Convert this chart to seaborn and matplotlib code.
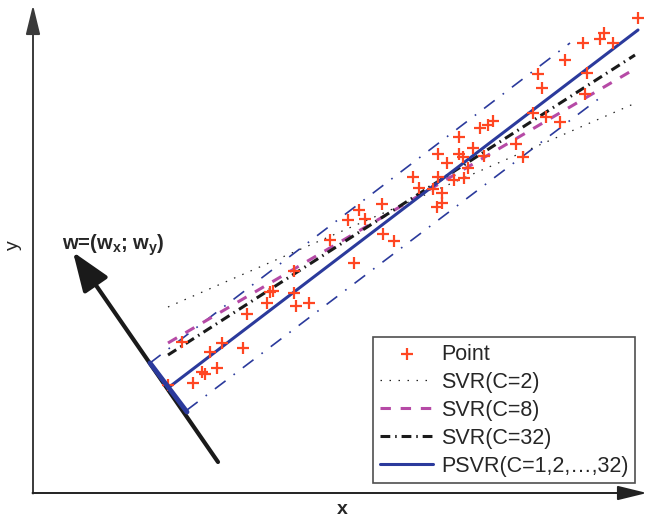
import matplotlib
matplotlib.use('Agg')
import matplotlib.pyplot as plt
import seaborn as sns

sns.set_theme(style='white')
plt.rcParams['font.family'] = ['Liberation Sans', 'DejaVu Sans']
plt.rcParams['mathtext.fontset'] = 'custom'
plt.rcParams['mathtext.bf'] = 'Liberation Sans:bold'
plt.rcParams['mathtext.rm'] = 'Liberation Sans'

# sample points
pts_x = [1.35, 1.60, 1.69, 1.72, 1.84, 1.77, 1.49, 1.89, 2.10, 2.14,
         2.34, 2.37, 2.40, 2.61, 2.63, 2.76, 2.61, 2.97, 3.21, 3.15,
         3.26, 3.32, 3.49, 3.50, 3.61, 3.80, 3.86, 4.00, 4.09, 4.09,
         4.04, 4.05, 4.21, 4.31, 4.35, 4.14, 4.05, 4.26, 4.30, 4.51,
         4.40, 4.26, 4.47, 4.55, 4.60, 4.83, 4.90, 5.00, 5.13, 5.27,
         5.05, 5.09, 5.32, 5.54, 5.52, 5.50, 5.67, 5.71, 5.80, 6.05]
pts_y = [1.08, 1.10, 1.21, 1.19, 1.25, 1.41, 1.51, 1.50, 1.45, 1.79,
         1.90, 2.01, 2.02, 2.00, 1.87, 1.90, 2.22, 2.53, 2.30, 2.73,
         2.83, 2.74, 2.89, 2.59, 2.52, 3.16, 3.05, 3.04, 3.00, 2.90,
         2.86, 3.16, 3.13, 3.15, 3.25, 3.30, 3.39, 3.39, 3.36, 3.37,
         3.45, 3.56, 3.65, 3.68, 3.72, 3.49, 3.36, 3.80, 3.76, 3.71,
         4.19, 4.05, 4.33, 4.20, 3.99, 4.50, 4.54, 4.60, 4.50, 4.75]

# fitted lines (start/end)
svr2_x, svr2_y = [1.35, 6.05], [1.86, 3.91]
svr8_x, svr8_y = [1.35, 6.00], [1.50, 4.23]
svr32_x, svr32_y = [1.35, 6.02], [1.38, 4.38]
psvr_x, psvr_y = [1.35, 6.05], [1.05, 4.63]
band_up_x, band_up_y = [1.17, 5.37], [1.30, 4.50]
band_lo_x, band_lo_y = [1.54, 5.72], [0.83, 3.99]
margin_x, margin_y = [1.17, 1.54], [1.30, 0.81]

# normal vector w
w_tail = (1.85, 0.31)
w_head = (0.40, 2.41)

blue = '#2b3a9c'
magenta = '#b64aa6'
red = '#ff4622'

fig = plt.figure(figsize=(6.49, 5.21), dpi=100)
ax = fig.add_axes([0, 0, 1, 1])
ax.set_xlim(-0.33, 6.16)
ax.set_ylim(-0.28, 4.93)
ax.axis('off')

# axes with arrows
ax.annotate('', xy=(0, 4.88), xytext=(0, -0.005),
            arrowprops=dict(arrowstyle='-|>,head_length=0.9,head_width=0.22',
                            color='#3a3a3a', lw=1.4, mutation_scale=20,
                            shrinkA=0, shrinkB=0))
ax.annotate('', xy=(6.14, 0), xytext=(-0.005, 0),
            arrowprops=dict(arrowstyle='-|>,head_length=0.9,head_width=0.22',
                            color='#222222', lw=1.4, mutation_scale=20,
                            shrinkA=0, shrinkB=0))
ax.text(3.09, -0.17, 'x', fontsize=14, fontweight='bold', ha='center', va='center')
ax.text(-0.20, 2.48, 'y', fontsize=14, rotation=90, ha='center', va='center')

# w arrow
ax.annotate('', xy=w_head, xytext=w_tail,
            arrowprops=dict(arrowstyle='-|>,head_length=1.2,head_width=0.45',
                            color='#1a1a1a', lw=3, mutation_scale=20,
                            shrinkA=0, shrinkB=0))
ax.text(0.29, 2.48, 'w=(w$_\\mathbf{x}$; w$_\\mathbf{y}$)', fontsize=14.5,
        fontweight='bold', ha='left', va='center')

# margin bands of PSVR
sns.lineplot(x=band_up_x, y=band_up_y, ax=ax, color=blue, linewidth=1.2,
             linestyle=(0, (8, 6, 1, 6)), sort=False)
sns.lineplot(x=band_lo_x, y=band_lo_y, ax=ax, color=blue, linewidth=1.2,
             linestyle=(0, (8, 6, 1, 6)), sort=False)
sns.lineplot(x=margin_x, y=margin_y, ax=ax, color=blue, linewidth=3.5,
             sort=False, zorder=6)

sns.lineplot(x=svr2_x, y=svr2_y, ax=ax, color='#222222', linewidth=0.9,
             linestyle=(0, (1.2, 6)), sort=False, label='SVR(C=2)')
sns.lineplot(x=svr8_x, y=svr8_y, ax=ax, color=magenta, linewidth=2.2,
             linestyle=(0, (3.4, 3.2)), sort=False, label='SVR(C=8)')
sns.lineplot(x=svr32_x, y=svr32_y, ax=ax, color='#1a1a1a', linewidth=2.2,
             linestyle=(0, (3.2, 1.6, 0.5, 1.6)), sort=False, label='SVR(C=32)')
sns.lineplot(x=psvr_x, y=psvr_y, ax=ax, color=blue, linewidth=2.2,
             sort=False, label='PSVR(C=1,2,\u2026,32)')

sns.scatterplot(x=pts_x, y=pts_y, ax=ax, marker='+', s=70, color=red,
                linewidth=1.6, label='Point', zorder=5)

handles, labels = ax.get_legend_handles_labels()
order = [labels.index(l) for l in ['Point', 'SVR(C=2)', 'SVR(C=8)', 'SVR(C=32)',
                                   'PSVR(C=1,2,\u2026,32)']]
leg = ax.legend([handles[i] for i in order], [labels[i] for i in order],
                loc='lower left', bbox_to_anchor=(0.575, 0.073), fontsize=15.5,
                frameon=True, fancybox=False, edgecolor='#222222',
                handlelength=2.5, handletextpad=0.35, labelspacing=0.32,
                borderpad=0.3, borderaxespad=0)
leg.get_frame().set_linewidth(1.2)

fig.savefig('out.png', dpi=100)
